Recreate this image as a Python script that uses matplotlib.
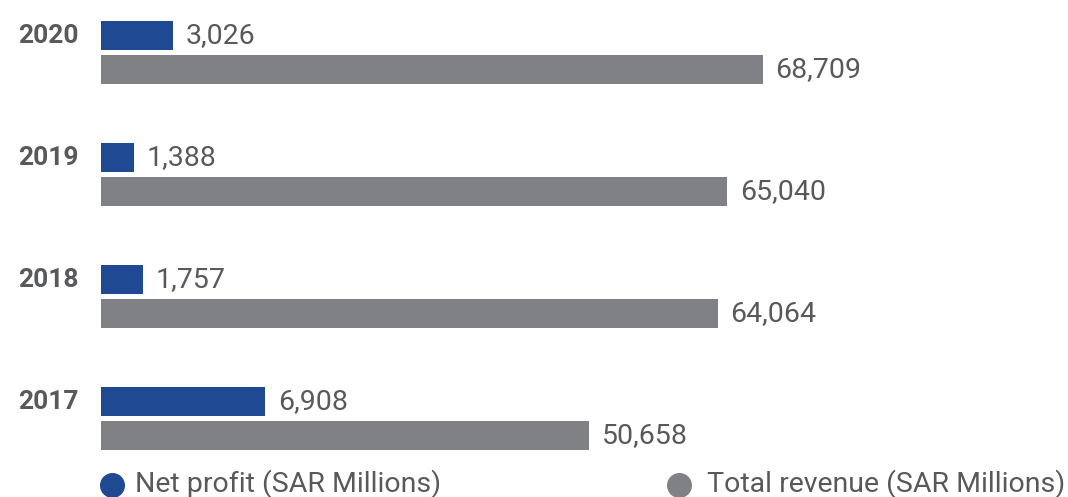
import matplotlib

matplotlib.use("Agg")

import matplotlib.pyplot as plt

plt.rcParams["font.family"] = ["Roboto", "DejaVu Sans"]

years = ["2020", "2019", "2018", "2017"]
net_profit = [3026, 1388, 1757, 6908]
total_revenue = [68709, 65040, 64064, 50658]

BLUE = "#1f4a93"
GRAY = "#808184"
TEXT = "#58595b"

W, H = 1068, 497
fig = plt.figure(figsize=(W / 100, H / 100), dpi=100)

# bars start at x=101px and run to the right edge
left = 101 / W
ax = fig.add_axes([left, 0, 1 - left, 1])
ax2 = ax.twiny()

ax.set_xlim(0, 100400)
ax2.set_xlim(0, 40700)
for a in (ax, ax2):
    a.set_ylim(3.643, -0.430)
    a.axis("off")

off = 0.139
bh = 0.238
pos = list(range(len(years)))

ax2.barh([p - off for p in pos], net_profit, height=bh, color=BLUE)
ax.barh([p + off for p in pos], total_revenue, height=bh, color=GRAY)

for p, y, npv, rv in zip(pos, years, net_profit, total_revenue):
    ax2.annotate(f"{npv:,}", (npv, p - off), xytext=(9, 0), textcoords="offset points",
                 ha="left", va="center", fontsize=20.5, color=TEXT)
    ax.annotate(f"{rv:,}", (rv, p + off), xytext=(9, 0), textcoords="offset points",
                ha="left", va="center", fontsize=20.5, color=TEXT)
    ax.annotate(y, (0, p - off), xytext=(-16, 0), textcoords="offset points",
                ha="right", va="center", fontsize=19, fontweight="bold", color=TEXT)

# legend along the bottom edge
for cx, tx, label, c in [(112, 135, "Net profit (SAR Millions)", BLUE),
                         (679, 707, "Total revenue (SAR Millions)", GRAY)]:
    fig.add_artist(plt.Line2D([cx / W], [1 - 485 / H], marker="o", markersize=17,
                              color=c, linestyle="none", transform=fig.transFigure))
    fig.text(tx / W, 1 - 484 / H, label, ha="left", va="center", fontsize=20.5, color=TEXT)

fig.savefig("out.png", dpi=100)
